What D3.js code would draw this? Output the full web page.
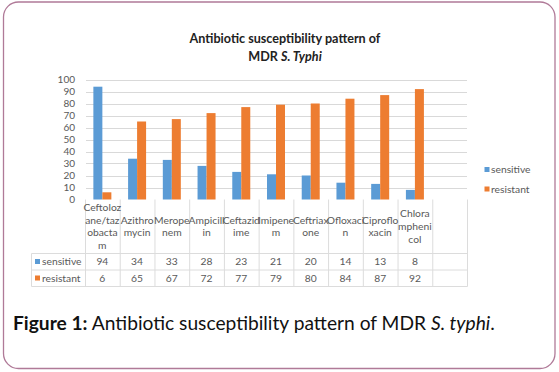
<!DOCTYPE html>
<html><head><meta charset="utf-8">
<script src="https://cdn.jsdelivr.net/npm/d3@7"></script>
<style>
html,body{margin:0;padding:0;background:#fff;}
svg{display:block;}
</style></head>
<body>
<script>
const categories = ["Ceftolozane/tazobactam","Azithromycin","Meropenem","Ampicillin","Ceftazidime","Imipenem","Ceftriaxone","Ofloxacin","Ciprofloxacin","Chloramphenicol"];
const categoryLines = [["Ceftoloz","ane/taz","obacta","m"],["Azithro","mycin"],["Merope","nem"],["Ampicill","in"],["Ceftazid","ime"],["Imipene","m"],["Ceftriax","one"],["Ofloxaci","n"],["Ciproflo","xacin"],["Chlora","mpheni","col"]];
const seriesNames = ["sensitive","resistant"];
const sensitive = [94,34,33,28,23,21,20,14,13,8];
const resistant = [6,65,67,72,77,79,80,84,87,92];
const yTicks = [0,10,20,30,40,50,60,70,80,90,100];
const colors = {sensitive:"#5b9bd5", resistant:"#ed7d31"};

const W=559,H=372;
const svg=d3.select("body").append("svg").attr("width",W).attr("height",H);
const font="Lato, 'Open Sans', sans-serif";

// border
svg.append("rect").attr("x",3.5).attr("y",2).attr("width",551.5).attr("height",366.5)
  .attr("rx",15).attr("ry",15).attr("fill","#fff").attr("stroke","#b07a98").attr("stroke-width",1.3);

// title
const title=svg.append("text").attr("text-anchor","middle").attr("font-family",font)
  .attr("font-weight","bold").attr("font-size",12.6).attr("fill","#222");
title.append("tspan").attr("x",285).attr("y",43).text("Antibiotic susceptibility pattern of");
const t2=title.append("tspan").attr("x",285).attr("y",60.5);
t2.append("tspan").text("MDR ");
t2.append("tspan").attr("font-style","italic").text("S. Typhi");

const slots = categories.concat([""]);
const x=d3.scaleBand().domain(slots.map((d,i)=>i)).range([85,467]);
const x1=d3.scaleBand().domain(seriesNames).range([0,18]);
const y=d3.scaleLinear().domain([0,100]).range([199.5,79.5]);

// gridlines
svg.append("g").selectAll("line").data(yTicks.filter(d=>d>0)).join("line")
  .attr("x1",86).attr("x2",467).attr("y1",d=>Math.round(y(d))+0.5).attr("y2",d=>Math.round(y(d))+0.5)
  .attr("stroke","#d9d9d9").attr("stroke-width",1);

// y axis labels
const yAxis=d3.axisLeft(y).tickValues(yTicks).tickSize(0).tickPadding(0);
const ya=svg.append("g").attr("transform","translate(75,0)").call(yAxis);
ya.select(".domain").remove();
ya.selectAll("text").attr("font-family",font).attr("font-size",10).attr("fill","#595959");

// bars
const data=categories.map((c,i)=>({i,sensitive:sensitive[i],resistant:resistant[i]}));
const groups=svg.append("g").selectAll("g").data(data).join("g")
  .attr("transform",d=>`translate(${x(d.i)+(x.bandwidth()-18)/2},0)`);
groups.selectAll("rect").data(d=>seriesNames.map(k=>({k,v:d[k]}))).join("rect")
  .attr("x",d=>x1(d.k)).attr("width",x1.bandwidth())
  .attr("y",d=>y(d.v)).attr("height",d=>y(0)-y(d.v)).attr("fill",d=>colors[d.k]);

// table
const tTop=199.5, hRow=253.5, r1=270, r2=286.5, tLeft=31.5;
const g=svg.append("g").attr("stroke","#dcdcdc").attr("stroke-width",1);
slots.forEach((s,i)=>{ g.append("line").attr("x1",x(i)+0.5).attr("x2",x(i)+0.5).attr("y1",tTop).attr("y2",r2); });
g.append("line").attr("x1",467.5).attr("x2",467.5).attr("y1",tTop).attr("y2",r2);
g.append("line").attr("x1",tLeft).attr("x2",tLeft).attr("y1",hRow).attr("y2",r2);
[hRow,r1,r2].forEach(yy=>g.append("line").attr("x1",tLeft).attr("x2",467.5).attr("y1",yy).attr("y2",yy));

// header labels
const hg=svg.append("g").attr("font-family",font).attr("font-size",10.3).attr("fill","#595959").attr("text-anchor","middle");
categoryLines.forEach((lines,i)=>{
  const cx=x(i)+x.bandwidth()/2;
  const lh=12.6, c=226.5;
  lines.forEach((ln,j)=>{
    hg.append("text").attr("x",cx).attr("y",c+(j-(lines.length-1)/2)*lh+3.5).text(ln);
  });
});
// values
[sensitive,resistant].forEach((arr,r)=>{
  const yy=[261.5,278][r]+3.5;
  arr.forEach((v,i)=>hg.append("text").attr("x",x(i)+x.bandwidth()/2).attr("y",yy).text(v));
});
// row legends
seriesNames.forEach((k,r)=>{
  const yy=[261.5,278][r];
  svg.append("rect").attr("x",35).attr("y",yy-2.5).attr("width",5).attr("height",5).attr("fill",colors[k]);
  svg.append("text").attr("x",42).attr("y",yy+3.5).attr("font-family",font).attr("font-size",10.3).attr("fill","#595959").text(k);
});
// right legend
seriesNames.forEach((k,r)=>{
  const yy=[169.5,189][r];
  svg.append("rect").attr("x",484.5).attr("y",yy-2.5).attr("width",5).attr("height",5).attr("fill",colors[k]);
  svg.append("text").attr("x",491).attr("y",yy+3.5).attr("font-family",font).attr("font-size",10.3).attr("fill","#595959").text(k);
});

// caption
const cap=svg.append("text").attr("x",13).attr("y",329.5).attr("font-family",font).attr("font-size",19.2).attr("fill","#111");
cap.append("tspan").attr("font-weight","bold").text("Figure 1:");
cap.append("tspan").text(" Antibiotic susceptibility pattern of MDR ");
cap.append("tspan").attr("font-style","italic").text("S. typhi");
cap.append("tspan").text(".");
</script>
</body></html>
